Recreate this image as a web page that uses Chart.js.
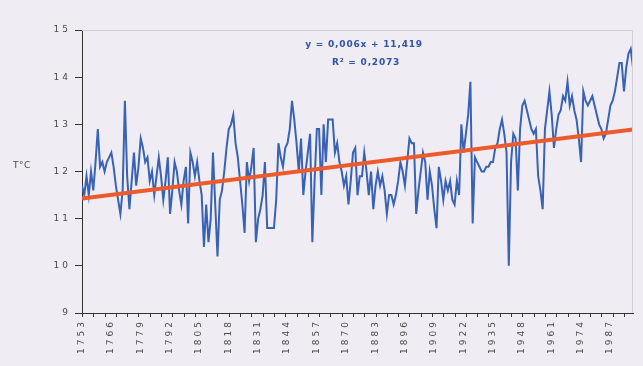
<!DOCTYPE html>
<html>
<head>
<meta charset="utf-8">
<script src="https://cdn.jsdelivr.net/npm/chart.js@4.4.1/dist/chart.umd.min.js"></script>
<style>
  html, body { margin: 0; padding: 0; background: #efedf3; }
  #wrap { width: 643px; height: 366px; position: relative; overflow: hidden; }
  #chart { position: absolute; left: 0; top: 0; }
  .year {
    position: absolute;
    width: 12px;
    line-height: 12px;
    font: 9px 'DejaVu Sans', sans-serif;
    letter-spacing: 3px;
    color: #4a4a4a;
    writing-mode: vertical-rl;
    transform: rotate(180deg);
    white-space: nowrap;
  }
</style>
</head>
<body>
<div id="wrap"><canvas id="chart" width="643" height="366"></canvas></div>
<script>
// Annual mean temperature series, one value per year starting at FIRST_YEAR
const FIRST_YEAR = 1753;
const TEMPS = [
  11.7, 11.5, 11.9, 11.5, 12.0, 11.6, 12.2, 12.9, 12.1, 12.2,
  12.0, 12.2, 12.3, 12.4, 12.1, 11.7, 11.4, 11.1, 11.6, 13.5,
  11.9, 11.2, 11.8, 12.4, 11.7, 12.1, 12.7, 12.5, 12.2, 12.3,
  11.8, 12.0, 11.5, 11.9, 12.3, 11.9, 11.4, 11.8, 12.3, 11.1,
  11.6, 12.2, 12.0, 11.6, 11.3, 11.8, 12.1, 10.9, 12.4, 12.2,
  11.9, 12.2, 11.8, 11.5, 10.4, 11.3, 10.5, 11.0, 12.4, 11.3,
  10.2, 11.4, 11.6, 12.0, 12.5, 12.9, 13.0, 13.2, 12.6, 12.3,
  11.8, 11.3, 10.7, 12.2, 11.8, 12.1, 12.5, 10.5, 11.0, 11.2,
  11.5, 12.2, 10.8, 10.8, 10.8, 10.8, 11.4, 12.6, 12.3, 12.1,
  12.5, 12.6, 12.9, 13.5, 13.1, 12.6, 12.0, 12.7, 11.5, 12.0,
  12.4, 12.8, 10.5, 11.8, 12.9, 12.9, 11.5, 13.0, 12.2, 13.1,
  13.1, 13.1, 12.4, 12.6, 12.2, 12.0, 11.7, 11.9, 11.3, 11.8,
  12.4, 12.5, 11.5, 11.9, 11.9, 12.4, 12.0, 11.5, 12.0, 11.2,
  11.7, 12.0, 11.7, 11.9, 11.6, 11.1, 11.5, 11.5, 11.3, 11.5,
  11.8, 12.2, 12.0, 11.7, 12.2, 12.7, 12.6, 12.6, 11.1, 11.6,
  12.0, 12.4, 12.2, 11.4, 12.0, 11.7, 11.2, 10.8, 12.1, 11.8,
  11.4, 11.8, 11.6, 11.8, 11.4, 11.3, 11.8, 11.5, 13.0, 12.4,
  12.8, 13.2, 13.9, 10.9, 12.3, 12.2, 12.1, 12.0, 12.0, 12.1,
  12.1, 12.2, 12.2, 12.5, 12.6, 12.9, 13.1, 12.8, 12.4, 10.0,
  12.2, 12.8, 12.7, 11.6, 12.9, 13.4, 13.5, 13.3, 13.1, 12.9,
  12.8, 12.9, 11.9, 11.6, 11.2, 12.9, 13.3, 13.7, 13.2, 12.5,
  12.9, 13.2, 13.3, 13.6, 13.5, 13.9, 13.4, 13.6, 13.3, 13.1,
  12.7, 12.2, 13.7, 13.5, 13.4, 13.5, 13.6, 13.4, 13.2, 13.0,
  12.9, 12.7, 12.8, 13.1, 13.4, 13.5, 13.7, 14.0, 14.3, 14.3,
  13.7, 14.2, 14.5, 14.6, 14.2
];

// Axis tick values
const TICK_YEARS = [1753, 1766, 1779, 1792, 1805, 1818, 1831, 1844, 1857, 1870,
                    1883, 1896, 1909, 1922, 1935, 1948, 1961, 1974, 1987];
const Y_TICKS = [9, 10, 11, 12, 13, 14, 15];
const MINOR_TICK_STEP = 5;

// Linear trend: T = slope * n + intercept, n = 1 for the first year
const TREND_SLOPE = 0.006;
const TREND_INTERCEPT = 11.419;
const TREND_R2 = 0.2073;

const Y_TITLE = 'T°C';

const LAST_YEAR = FIRST_YEAR + TEMPS.length - 1;
const series = TEMPS.map((t, i) => ({ x: FIRST_YEAR + i, y: t }));
const trend = [
  { x: FIRST_YEAR, y: TREND_SLOPE * 1 + TREND_INTERCEPT },
  { x: LAST_YEAR, y: TREND_SLOPE * TEMPS.length + TREND_INTERCEPT }
];

const comma = (v, d) => v.toFixed(d).replace('.', ',');
const eqLine1 = 'y = ' + comma(TREND_SLOPE, 3) + 'x + ' + comma(TREND_INTERCEPT, 3);
const eqLine2 = 'R² = ' + comma(TREND_R2, 4);

const TEXT_SPACING = '3px';
const FONT_FAMILY = "'DejaVu Sans', sans-serif";
const AXIS_COLOR = '#333333';
const LABEL_COLOR = '#4a4a4a';

// Wide tracking for the axis text
const spacingPlugin = {
  id: 'spacing',
  beforeUpdate(c) { c.ctx.letterSpacing = TEXT_SPACING; },
  beforeLayout(c) { c.ctx.letterSpacing = TEXT_SPACING; },
  beforeDraw(c) { c.ctx.letterSpacing = TEXT_SPACING; }
};

// Frame, minor ticks, y title and trend equation
const decorPlugin = {
  id: 'decor',
  afterDraw(c) {
    const ctx = c.ctx;
    const a = c.chartArea;
    const xs = c.scales.x;
    ctx.save();
    // light frame on top and right
    ctx.strokeStyle = '#cfcdd5';
    ctx.lineWidth = 1;
    ctx.beginPath();
    ctx.moveTo(a.left, a.top + 0.5);
    ctx.lineTo(a.right - 0.5, a.top + 0.5);
    ctx.lineTo(a.right - 0.5, a.bottom);
    ctx.stroke();
    // minor tick marks below the x axis
    ctx.strokeStyle = AXIS_COLOR;
    ctx.beginPath();
    for (let yr = FIRST_YEAR; yr <= LAST_YEAR; yr += MINOR_TICK_STEP) {
      const px = Math.round(xs.getPixelForValue(yr)) + 0.5;
      ctx.moveTo(px, a.bottom);
      ctx.lineTo(px, a.bottom + 4);
    }
    ctx.stroke();
    // y title
    ctx.letterSpacing = '0.5px';
    ctx.fillStyle = LABEL_COLOR;
    ctx.font = '9px ' + FONT_FAMILY;
    ctx.textAlign = 'left';
    ctx.textBaseline = 'middle';
    ctx.fillText(Y_TITLE, 13, 166);
    // trend equation
    ctx.letterSpacing = '0.8px';
    ctx.fillStyle = '#2f53a6';
    ctx.font = 'bold 9px ' + FONT_FAMILY;
    ctx.textAlign = 'center';
    ctx.fillText(eqLine1, 364, 45);
    ctx.fillText(eqLine2, 366, 63);
    ctx.restore();
  }
};

const chart = new Chart(document.getElementById('chart'), {
  type: 'line',
  data: {
    datasets: [
      {
        data: series,
        borderColor: '#3a62b4',
        borderWidth: 2,
        pointRadius: 0,
        tension: 0,
        order: 2
      },
      {
        data: trend,
        borderColor: '#ee5a2b',
        borderWidth: 4,
        pointRadius: 0,
        tension: 0,
        order: 1
      }
    ]
  },
  options: {
    responsive: false,
    animation: false,
    events: [],
    layout: { padding: { top: 30, right: 10, left: 0, bottom: 0 } },
    plugins: { legend: { display: false }, tooltip: { enabled: false } },
    scales: {
      x: {
        type: 'linear',
        min: FIRST_YEAR,
        max: LAST_YEAR,
        afterBuildTicks: s => { s.ticks = TICK_YEARS.map(v => ({ value: v })); },
        afterFit: s => { s.height = 53; },
        ticks: { display: false },
        grid: { drawOnChartArea: false, drawTicks: false },
        border: { color: AXIS_COLOR, width: 1 }
      },
      y: {
        min: 9,
        max: 15,
        afterBuildTicks: s => { s.ticks = Y_TICKS.map(v => ({ value: v })); },
        afterFit: s => { s.width = 82; },
        ticks: {
          padding: 4,
          color: LABEL_COLOR,
          font: { family: FONT_FAMILY, size: 9 },
          callback: v => String(v)
        },
        grid: { drawOnChartArea: false, drawTicks: true, tickLength: 7, color: AXIS_COLOR },
        border: { color: AXIS_COLOR, width: 1 }
      }
    }
  },
  plugins: [spacingPlugin, decorPlugin]
});

// Year labels on the x axis, reading upwards, placed through the x scale
const wrap = document.getElementById('wrap');
const xScale = chart.scales.x;
TICK_YEARS.forEach(yr => {
  const el = document.createElement('div');
  el.className = 'year';
  el.textContent = String(yr);
  el.style.left = (xScale.getPixelForValue(yr) - 6) + 'px';
  el.style.top = (chart.chartArea.bottom + 6) + 'px';
  wrap.appendChild(el);
});
</script>
</body>
</html>
